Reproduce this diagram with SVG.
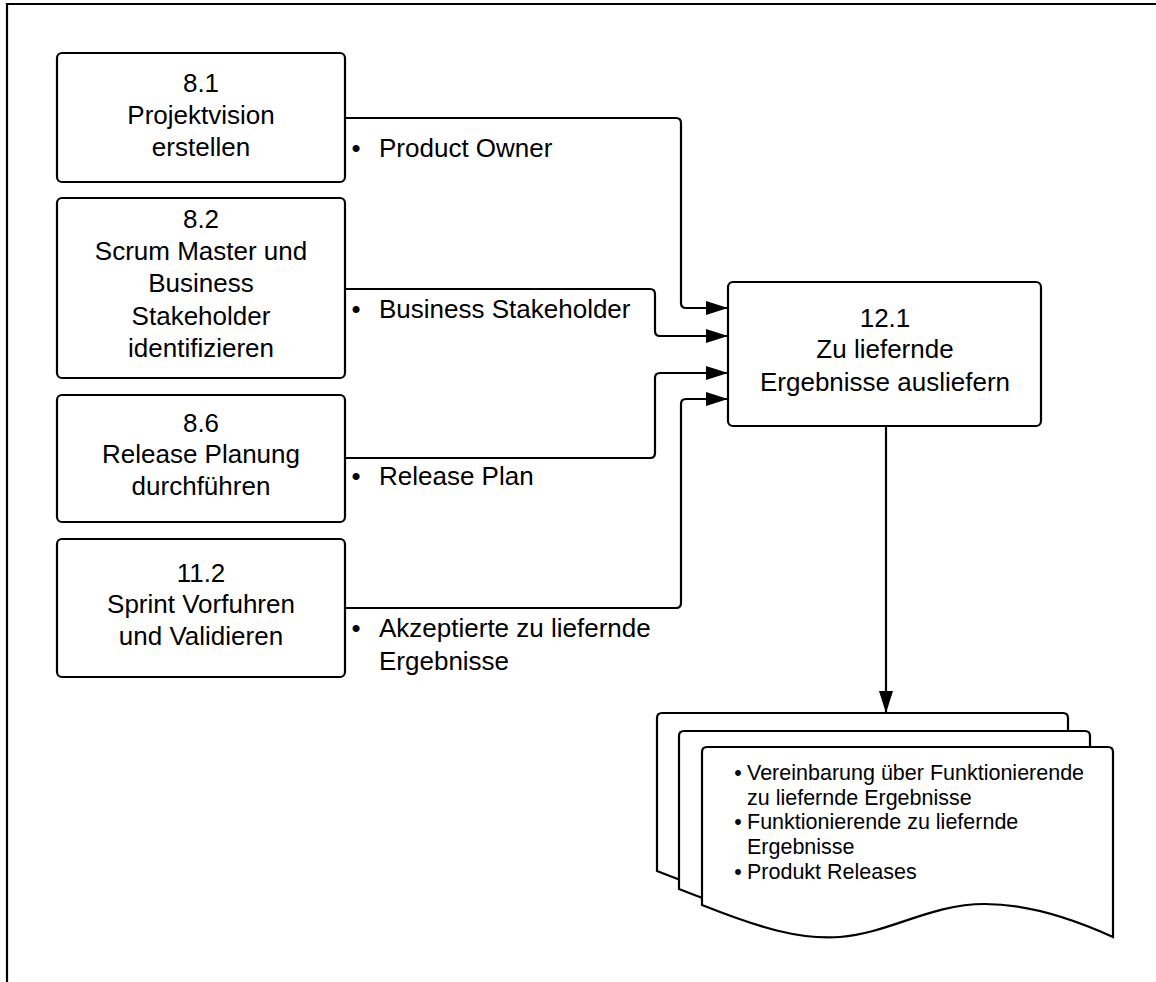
<svg xmlns="http://www.w3.org/2000/svg" width="1156" height="982" viewBox="0 0 1156 982">
<style>
.box{fill:#fff;stroke:#000;stroke-width:2.2}
.t{font-family:"Liberation Sans",Arial,sans-serif;font-size:26px;fill:#000}
.c{text-anchor:middle}
.d{font-family:"Liberation Sans",Arial,sans-serif;font-size:21.5px;fill:#000}
.ln{fill:none;stroke:#000;stroke-width:2.2}
</style>
<defs>
<marker id="arr" viewBox="0 0 22 14" refX="22" refY="7" markerWidth="22" markerHeight="14" orient="auto" markerUnits="userSpaceOnUse">
<path d="M0,0 L22,7 L0,14 Z" fill="#000"/>
</marker>
<path id="doc" d="M702,905 V752 Q702,747 707,747 H1108 Q1113,747 1113,752 V937 C1080,922 1030,904 985,904 C930,904 890,933 840,937 C800,940 760,928 702,905 Z"/>
</defs>
<rect width="1156" height="982" fill="#fff"/>
<path d="M7,982 V4 H1156" class="ln"/>

<g id="n81">
<rect class="box" x="57" y="53" width="288" height="129" rx="5"/>
<text class="t c" x="201" y="92">8.1</text>
<text class="t c" x="201" y="124">Projektvision</text>
<text class="t c" x="201" y="156">erstellen</text>
</g>
<g id="n82">
<rect class="box" x="57" y="198" width="288" height="180" rx="5"/>
<text class="t c" x="201" y="228">8.2</text>
<text class="t c" x="201" y="260">Scrum Master und</text>
<text class="t c" x="201" y="292">Business</text>
<text class="t c" x="201" y="325">Stakeholder</text>
<text class="t c" x="201" y="357">identifizieren</text>
</g>
<g id="n86">
<rect class="box" x="57" y="395" width="288" height="127" rx="5"/>
<text class="t c" x="201" y="432">8.6</text>
<text class="t c" x="201" y="463">Release Planung</text>
<text class="t c" x="201" y="495">durchführen</text>
</g>
<g id="n112">
<rect class="box" x="57" y="539" width="288" height="138" rx="5"/>
<text class="t c" x="201" y="582">11.2</text>
<text class="t c" x="201" y="613">Sprint Vorfuhren</text>
<text class="t c" x="201" y="645">und Validieren</text>
</g>
<g id="n121">
<rect class="box" x="728" y="282" width="313" height="144" rx="5"/>
<text class="t c" x="885" y="327">12.1</text>
<text class="t c" x="885" y="358">Zu liefernde</text>
<text class="t c" x="885" y="391">Ergebnisse ausliefern</text>
</g>

<g id="connectors">
<path class="ln" marker-end="url(#arr)" d="M345,118 H676 Q681,118 681,123 V303 Q681,308 686,308 H728"/>
<path class="ln" marker-end="url(#arr)" d="M345,289 H650 Q655,289 655,294 V331 Q655,336 660,336 H728"/>
<path class="ln" marker-end="url(#arr)" d="M345,458 H650 Q655,458 655,453 V378 Q655,373 660,373 H728"/>
<path class="ln" marker-end="url(#arr)" d="M345,608 H676 Q681,608 681,603 V404 Q681,399 686,399 H728"/>
<path class="ln" marker-end="url(#arr)" d="M886,426 V713"/>
</g>

<g id="labels">
<text class="t c" x="356" y="157">•</text>
<text class="t" x="379" y="157">Product Owner</text>
<text class="t c" x="356" y="318">•</text>
<text class="t" x="379" y="318">Business Stakeholder</text>
<text class="t c" x="356" y="485">•</text>
<text class="t" x="379" y="485">Release Plan</text>
<text class="t c" x="356" y="637">•</text>
<text class="t" x="379" y="637">Akzeptierte zu liefernde</text>
<text class="t" x="379" y="670">Ergebnisse</text>
</g>

<g id="docs">
<use href="#doc" transform="translate(-45,-34)" class="box"/>
<use href="#doc" transform="translate(-23,-16)" class="box"/>
<use href="#doc" class="box"/>
<text class="d c" x="738" y="780">•</text>
<text class="d" x="747" y="780">Vereinbarung über Funktionierende</text>
<text class="d" x="747" y="805">zu liefernde Ergebnisse</text>
<text class="d c" x="738" y="829">•</text>
<text class="d" x="747" y="829">Funktionierende zu liefernde</text>
<text class="d" x="747" y="854">Ergebnisse</text>
<text class="d c" x="738" y="879">•</text>
<text class="d" x="747" y="879">Produkt Releases</text>
</g>
</svg>
